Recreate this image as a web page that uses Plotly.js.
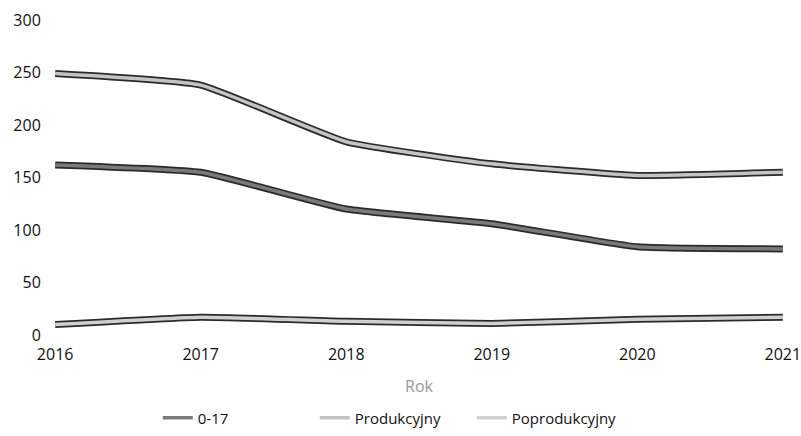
<!DOCTYPE html>
<html>
<head>
<meta charset="utf-8">
<script src="https://cdn.plot.ly/plotly-3.0.1.min.js"></script>
<style>
  html, body { margin: 0; padding: 0; background: #fff; }
  #chart { width: 801px; height: 436px; }
</style>
</head>
<body>
<div id="chart"></div>
<script>
// dane
var years = [2016, 2017, 2018, 2019, 2020, 2021];
var seriesNames = ['0-17', 'Produkcyjny', 'Poprodukcyjny'];
var vals_0_17 = [162, 155, 120, 106, 84, 82];
var vals_prod = [249, 238, 184, 163, 152, 155];
var vals_poprod = [10, 17, 13, 11, 15, 17];

var allValues = [vals_0_17, vals_prod, vals_poprod];
var fillColors = ['#7a7a7a', '#c4c4c4', '#d0d0d0'];

var data = [];
for (var i = 0; i < allValues.length; i++) {
    // ciemny obrys pod spodem
    data.push({
        x: years,
        y: allValues[i],
        mode: 'lines',
        type: 'scatter',
        legendgroup: 'g' + i,
        showlegend: false,
        hoverinfo: 'skip',
        line: { color: '#2a2a2a', width: 7, shape: 'spline', smoothing: 0.4 }
    });
    data.push({
        x: years,
        y: allValues[i],
        mode: 'lines',
        type: 'scatter',
        name: seriesNames[i],
        legendgroup: 'g' + i,
        line: { color: fillColors[i], width: 3.5, shape: 'spline', smoothing: 0.4 }
    });
}

var layout = {
    width: 801,
    height: 436,
    paper_bgcolor: '#fff',
    plot_bgcolor: '#fff',
    margin: { l: 55, r: 18, t: 20, b: 101, autoexpand: false },
    font: { family: 'Open Sans, sans-serif', size: 16, color: '#111' },
    showlegend: true,
    legend: {
        orientation: 'h',
        xref: 'container',
        yref: 'container',
        x: 0.197,
        xanchor: 'left',
        y: 0.041,
        yanchor: 'middle',
        entrywidth: 112,
        itemwidth: 30,
        font: { size: 15, color: '#111' }
    },
    xaxis: {
        range: [2015.999, 2021.001],
        tickvals: years,
        ticktext: years.map(String),
        ticklabeloverflow: 'allow',
        showgrid: false,
        zeroline: false,
        showline: false,
        ticks: 'outside',
        ticklen: 5,
        tickcolor: 'rgba(0,0,0,0)',
        tickfont: { size: 16, color: '#111' },
        automargin: false,
        title: { text: 'Rok', standoff: 16, font: { size: 16, color: '#999' } }
    },
    yaxis: {
        range: [0, 300],
        tickvals: [0, 50, 100, 150, 200, 250, 300],
        showgrid: false,
        zeroline: false,
        showline: false,
        ticks: 'outside',
        ticklen: 10,
        tickcolor: 'rgba(0,0,0,0)',
        tickfont: { size: 16, color: '#111' },
        automargin: false
    }
};

Plotly.newPlot('chart', data, layout, { displayModeBar: false, staticPlot: true });
</script>
</body>
</html>
